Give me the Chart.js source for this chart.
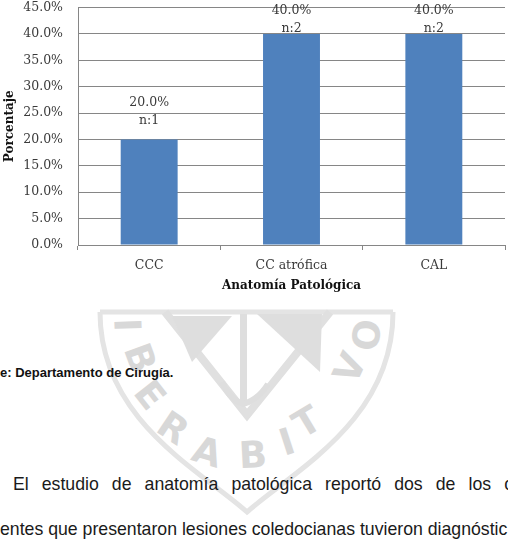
<!DOCTYPE html>
<html>
<head>
<meta charset="utf-8">
<script src="https://cdn.jsdelivr.net/npm/chart.js@4.4.0/dist/chart.umd.min.js"></script>
<style>
  html, body { margin: 0; padding: 0; background: #fff; width: 508px; height: 559px; overflow: hidden; }
  #mark { position: absolute; left: 0; top: 0; }
  #chartBox { position: absolute; left: 0; top: -15px; width: 508px; height: 310px; }
  .src { position: absolute; left: 0; top: 365px; font: bold 13px "Liberation Sans", Arial, sans-serif; color: #111; white-space: nowrap; }
  .line { position: absolute; font: 17.7px "Liberation Sans", Arial, sans-serif; color: #1a1a1a; }
  #l1 { left: 13px; top: 474px; width: 500px; text-align: justify; text-align-last: justify; }
  #l2 { left: 0; top: 519px; white-space: nowrap; }
</style>
</head>
<body>
<svg id="mark" width="508" height="559"></svg>
<div id="chartBox"><canvas id="chart" width="508" height="310"></canvas></div>
<div class="src">e: Departamento de Cirugía.</div>
<div class="line" id="l1">El estudio de anatomía patológica reportó dos de los c</div>
<div class="line" id="l2">entes que presentaron lesiones coledocianas tuvieron diagnóstic</div>
<script>
// chart data
const categories = ['CCC', 'CC atrófica', 'CAL'];
const percentages = [20, 40, 40];
const counts = [1, 2, 2];
const yMax = 45;
const yStep = 5;

// faint seal behind the text
const svg = document.getElementById('mark');
const NS = 'http://www.w3.org/2000/svg';
function add(tag, attrs, text) {
  let el = document.createElementNS(NS, tag);
  for (let k in attrs) el.setAttribute(k, attrs[k]);
  if (text) el.textContent = text;
  svg.appendChild(el);
  return el;
}
add('path', { d: 'M100,312 L393,312', stroke: '#e4e4e4', 'stroke-width': 5, fill: 'none' });
add('path', { d: 'M100,312 C100,420 200,470 247,512 C295,470 393,420 393,312', stroke: '#e4e4e4', 'stroke-width': 5, fill: 'none' });
add('path', { d: 'M165,312 L247,415 L330,312', stroke: '#e0e0e0', 'stroke-width': 8, fill: 'none' });
add('path', { d: 'M172,316 L232,316 L192,362 Z', fill: '#dedede' });
add('path', { d: 'M257,314 L322,314 L320,372 Z', fill: '#dedede' });
add('rect', { x: 240, y: 314, width: 7, height: 92, fill: '#dedede' });
add('path', { d: 'M222,382 Q230,400 243,404 Q258,400 268,384', stroke: '#dedede', 'stroke-width': 6, fill: 'none' });
let letters = [
  ['I', 127, 325, 88], ['B', 140, 358, 70], ['E', 150, 395, 52], ['R', 173, 428, 34],
  ['A', 207, 452, 17], ['B', 253, 455, -3], ['I', 287, 442, -18], ['T', 307, 422, -31],
  ['V', 350, 368, -65], ['O', 367, 335, -83]
];
letters.forEach(l => {
  add('text', {
    x: 0, y: 0, transform: 'translate(' + l[1] + ',' + l[2] + ') rotate(' + l[3] + ')',
    'text-anchor': 'middle', 'dominant-baseline': 'central',
    'font-family': 'DejaVu Sans, sans-serif', 'font-weight': 'bold', 'font-size': 37, fill: '#d8d8d8'
  }, l[0]);
});

const tickFont = { family: 'DejaVu Serif', size: 12.5 };
const titleFont = { family: 'DejaVu Serif', size: 12, weight: 'bold' };
const gridColor = '#868686';
const textColor = '#3a3a3a';

// two-line labels above each bar, pushed down when they would leave the plot
const barLabels = {
  id: 'barLabels',
  afterDatasetsDraw(chart) {
    let ctx = chart.ctx;
    let meta = chart.getDatasetMeta(0);
    let minY = chart.chartArea.top + 3;
    ctx.save();
    ctx.font = '12.5px "DejaVu Serif"';
    ctx.fillStyle = textColor;
    ctx.textAlign = 'center';
    ctx.textBaseline = 'middle';
    meta.data.forEach((bar, i) => {
      let y1 = Math.max(bar.y - 37, minY);
      ctx.fillText(percentages[i].toFixed(1) + '%', bar.x, y1);
      ctx.fillText('n:' + counts[i], bar.x, y1 + 18);
    });
    ctx.restore();
  }
};

let ctx = document.getElementById('chart').getContext('2d');
let chart = new Chart(ctx, {
  type: 'bar',
  data: {
    labels: categories,
    datasets: [{
      data: percentages,
      backgroundColor: '#4F81BD',
      borderWidth: 0,
      barPercentage: 0.4,
      categoryPercentage: 1
    }]
  },
  options: {
    responsive: false,
    animation: false,
    devicePixelRatio: 1,
    layout: { padding: { left: 0, right: 3, top: 10, bottom: 0 } },
    plugins: { legend: { display: false }, tooltip: { enabled: false } },
    scales: {
      x: {
        grid: { display: true, drawOnChartArea: false, drawTicks: true, tickLength: 5, color: gridColor, offset: true },
        border: { display: true, color: gridColor },
        ticks: { font: tickFont, color: textColor, padding: 8 },
        title: { display: true, text: 'Anatomía Patológica', font: titleFont, color: '#111', padding: { top: 0, bottom: 2 } },
        afterFit(scale) { scale.height = 50; }
      },
      y: {
        min: 0,
        max: yMax,
        ticks: { stepSize: yStep, font: tickFont, color: textColor, padding: 15, callback: v => v.toFixed(1) + '%' },
        grid: { color: gridColor, drawTicks: false },
        border: { display: true, color: gridColor },
        title: { display: true, text: 'Porcentaje', font: titleFont, color: '#111', padding: { top: 3, bottom: 0 } },
        afterFit(scale) { scale.width = 78; }
      }
    }
  },
  plugins: [barLabels]
});
</script>
</body>
</html>
